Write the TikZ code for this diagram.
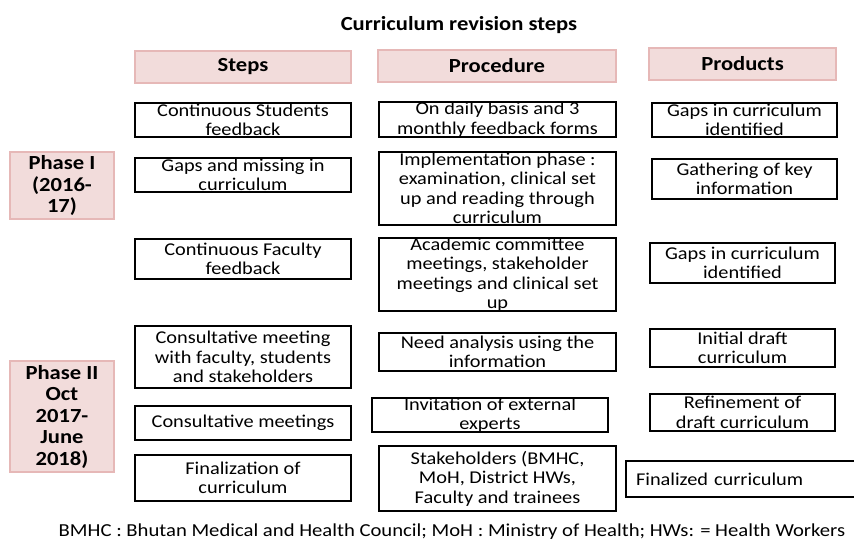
\documentclass[tikz,border=0pt]{standalone}
\usepackage{fontspec}
\setmainfont{Carlito}[FakeStretch=1.13]
\definecolor{headfill}{RGB}{242,220,219}
\definecolor{headline}{RGB}{230,184,183}
\begin{document}
\begin{tikzpicture}[x=1pt,y=-1pt,
  box/.style={draw=black,line width=2pt,inner sep=0pt,align=center,
    font=\fontsize{18}{19.5}\selectfont},
  headbox/.style={draw=headline,fill=headfill,line width=2pt,inner sep=0pt,
    align=center,font=\fontsize{20}{22}\selectfont\bfseries},
  phasebox/.style={headbox,font=\fontsize{20}{21.5}\selectfont\bfseries}]
\useasboundingbox (0,0) rectangle (854,541);
\clip (0,0) rectangle (854,541);
% title
\node[font=\fontsize{20}{22}\selectfont\bfseries] (title) at (459,25) {Curriculum revision steps};
% column headers
\node[headbox,minimum width=216pt,minimum height=32pt] (hsteps) at (243,67) {Steps};
\node[headbox,minimum width=238pt,minimum height=32pt] (hproc) at (497,66) {Procedure};
\node[headbox,minimum width=187pt,minimum height=32pt] (hprod) at (742.5,64) {Products};
% phases
\node[phasebox,minimum width=104pt,minimum height=67pt] (ph1) at (62,185.5) {Phase I\\(2016-\\17)};
\node[phasebox,minimum width=104pt,minimum height=111pt] (ph2) at (62,416.5) {Phase II\\Oct\\2017-\\June\\2018)};
% steps column
\node[box,minimum width=216pt,minimum height=34pt] (s1) at (243,120) {Continuous Students\\feedback};
\node[box,minimum width=216pt,minimum height=34pt] (s2) at (243,175) {Gaps and missing in\\curriculum};
\node[box,minimum width=216pt,minimum height=40pt] (s3) at (243,259) {Continuous Faculty\\feedback};
\node[box,minimum width=216pt,minimum height=62pt] (s4) at (243,357) {Consultative meeting\\with faculty, students\\and stakeholders};
\node[box,minimum width=216pt,minimum height=34pt] (s5) at (243,423) {Consultative meetings};
\node[box,minimum width=216pt,minimum height=46pt] (s6) at (243,478) {Finalization of\\curriculum};
% procedure column
\node[box,minimum width=237pt,minimum height=35pt] (p1) at (497.5,119.5) {On daily basis and 3\\monthly feedback forms};
\node[box,minimum width=237pt,minimum height=73pt] (p2) at (497.5,188.5) {Implementation phase :\\examination, clinical set\\up and reading through\\curriculum};
\node[box,minimum width=237pt,minimum height=71pt] (p3) at (497.5,274.5) {Academic committee\\meetings, stakeholder\\meetings and clinical set\\up};
\node[box,minimum width=237pt,minimum height=38pt] (p4) at (497.5,352) {Need analysis using the\\information};
\node[box,minimum width=236pt,minimum height=34pt] (p5) at (490,415) {Invitation of external\\experts};
\node[box,minimum width=237pt,minimum height=65pt] (p6) at (497.5,478.5) {Stakeholders (BMHC,\\MoH, District HWs,\\Faculty and trainees};
% products column
\node[box,minimum width=185pt,minimum height=34pt] (r1) at (744.5,120) {Gaps in curriculum\\identified};
\node[box,minimum width=185pt,minimum height=40pt] (r2) at (744.5,179) {Gathering of key\\information};
\node[box,minimum width=185pt,minimum height=40pt] (r3) at (742.5,263) {Gaps in curriculum\\identified};
\node[box,minimum width=185pt,minimum height=38pt] (r4) at (742.5,348) {Initial draft\\curriculum};
\node[box,minimum width=185pt,minimum height=37pt] (r5) at (742.5,412.5) {Refinement of\\draft curriculum};
\node[box,minimum width=240pt,minimum height=36pt,align=left,text width=220pt,inner xsep=10pt] (r6) at (746,479) {Finalized curriculum};
% footnote
\node[font=\fontsize{18.3}{20}\selectfont] (note) at (452,532) {BMHC : Bhutan Medical and Health Council; MoH : Ministry of Health; HWs: = Health Workers};
\end{tikzpicture}
\end{document}
